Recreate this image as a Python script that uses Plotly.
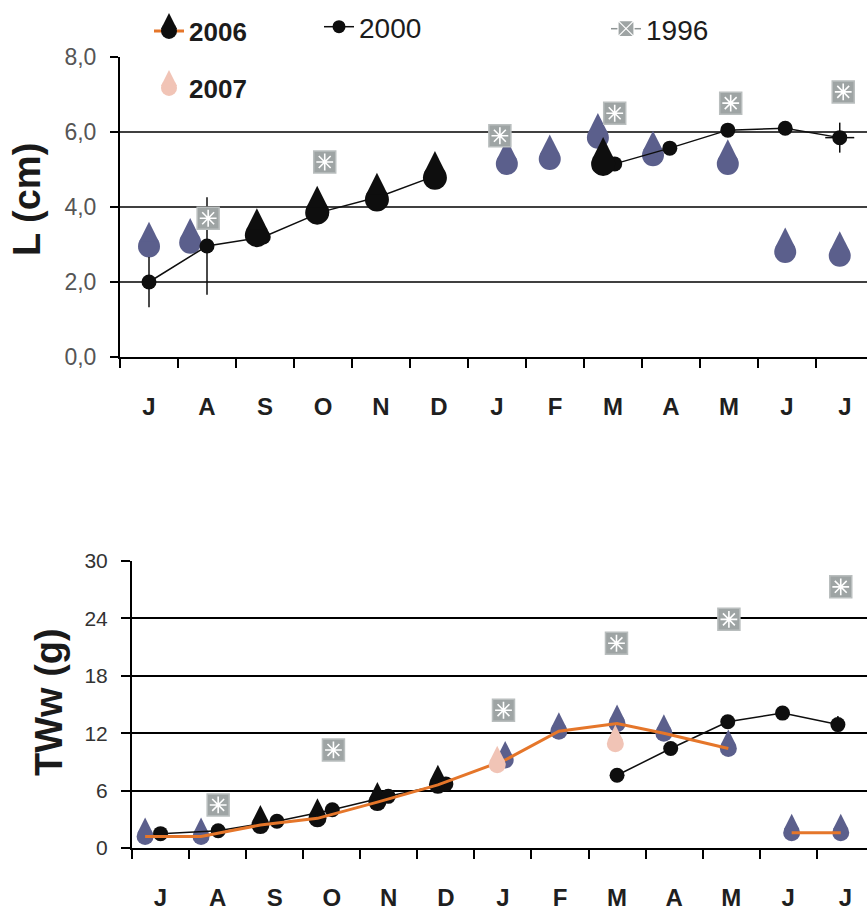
import plotly.graph_objects as go

# ---------------- data ----------------
months = ["J", "A", "S", "O", "N", "D", "J", "F", "M", "A", "M", "J", "J"]
month_pos = list(range(len(months)))          # month index, July .. July

L_ticks = [0, 2, 4, 6, 8]
L_ticktext = ["0,0", "2,0", "4,0", "6,0", "8,0"]
L_grid = [2, 4, 6]
W_ticks = [0, 6, 12, 18, 24, 30]

# ---- L (cm) panel ----
L_2006_dark_x = [1.86, 2.90, 3.93, 4.93, 7.83]
L_2006_dark_y = [3.25, 3.85, 4.20, 4.78, 5.15]
L_2006_light_x = [0.00, 0.71, 6.17, 6.91, 7.74, 8.69, 9.98, 10.97, 11.91]
L_2006_light_y = [2.95, 3.05, 5.15, 5.28, 5.85, 5.38, 5.15, 2.80, 2.70]
L_2000_x = [0.00, 1.00, 1.97, 2.98, 3.98, 4.97, 6.50, 8.03, 8.98, 9.98, 10.97, 11.91]
L_2000_y = [2.00, 2.96, 3.20, 3.87, 4.28, 4.85, None, 5.15, 5.57, 6.05, 6.10, 5.85]
L_2000_sd = [0.67, 1.30, 0, 0, 0.20, 0, 0, 0, 0, 0, 0, 0.40]
L_2000_sdx = [0, 0, 0, 0, 0, 0, 0, 0, 0, 0, 0, 0.25]
L_1996_x = [1.02, 3.03, 6.05, 8.03, 10.03, 11.97]
L_1996_y = [3.70, 5.20, 5.90, 6.50, 6.77, 7.07]

# ---- TWw (g) panel ----
W_2006_x = [-0.27, 0.71, 1.75, 2.75, 3.80, 4.86, 6.04, 6.98, 8.00, 8.82, 9.95, 10.50, 11.06, 11.92]
W_2006_y = [1.2, 1.2, 2.4, 3.1, 4.8, 6.6, 9.2, 12.2, 13.0, 12.0, 10.4, None, 1.6, 1.6]
W_2006_dark = [False, False, True, True, True, True, False, False, False, False, False, False, False, False]
W_2007_x = [5.90, 7.97]
W_2007_y = [8.7, 10.9]
W_2000_x = [0.00, 1.01, 2.04, 3.01, 3.99, 5.00, 6.50, 8.00, 8.94, 9.94, 10.90, 11.87]
W_2000_y = [1.5, 1.8, 2.8, 4.0, 5.4, 6.7, None, 7.6, 10.4, 13.2, 14.1, 12.9]
W_2000_sd = [0, 0, 0, 0, 0, 0, 0, 0, 0, 0, 0, 0.9]
W_1996_x = [1.01, 3.03, 6.01, 7.99, 9.96, 11.92]
W_1996_y = [4.5, 10.25, 14.4, 21.4, 23.9, 27.3]

# ---------------- styles ----------------
DARK = "#0e0e0e"
SLATE = "#5b5f8c"
PINK = "#f1c4b6"
ORANGE = "#e5762a"
SQ_FILL = "#9ea4a4"
SQ_EDGE = "#b9bebe"
GRAY_LINE = "#8e9494"
FONT = "Liberation Sans, Arial, sans-serif"

fig = go.Figure()


def add_drops(x, y, color, R, xa, ya):
    """Tear-drop marker = circle + narrow tip sitting above it."""
    common = dict(x=x, y=y, mode="markers", xaxis=xa, yaxis=ya,
                  showlegend=False, hoverinfo="skip")
    fig.add_trace(go.Scatter(**common, marker=dict(
        symbol="circle", size=2 * R, color=color, line=dict(width=0))))
    fig.add_trace(go.Scatter(**common, marker=dict(
        symbol="arrow-down", angle=180, standoff=2.236 * R, size=1.789 * R,
        color=color, line=dict(width=0))))


def add_squares(x, y, xa, ya):
    common = dict(x=x, y=y, mode="markers", xaxis=xa, yaxis=ya,
                  showlegend=False, hoverinfo="skip")
    fig.add_trace(go.Scatter(**common, marker=dict(
        symbol="square", size=22, color=SQ_FILL, line=dict(width=1.5, color=SQ_EDGE))))
    fig.add_trace(go.Scatter(**common, marker=dict(
        symbol="asterisk-open", size=14, color="white", line=dict(width=1.6, color="white"))))


# ---------- top panel: L (cm) ----------
add_drops(L_2006_light_x, L_2006_light_y, SLATE, 11, "x", "y")
fig.add_trace(go.Scatter(
    x=L_2000_x, y=L_2000_y, mode="lines+markers", xaxis="x", yaxis="y",
    line=dict(color=DARK, width=1.5), connectgaps=False,
    marker=dict(symbol="circle", size=15, color=DARK),
    error_y=dict(type="data", array=L_2000_sd, color=DARK, thickness=1.5, width=0),
    error_x=dict(type="data", array=L_2000_sdx, color=DARK, thickness=1.5, width=0),
    showlegend=False, hoverinfo="skip"))
add_squares(L_1996_x, L_1996_y, "x", "y")
add_drops(L_2006_dark_x, L_2006_dark_y, DARK, 12, "x", "y")

# ---------- bottom panel: TWw (g) ----------
W_light_x = [xv for xv, yv, d in zip(W_2006_x, W_2006_y, W_2006_dark) if yv is not None and not d]
W_light_y = [yv for yv, d in zip(W_2006_y, W_2006_dark) if yv is not None and not d]
W_dark_x = [xv for xv, yv, d in zip(W_2006_x, W_2006_y, W_2006_dark) if yv is not None and d]
W_dark_y = [yv for yv, d in zip(W_2006_y, W_2006_dark) if yv is not None and d]

add_drops(W_light_x, W_light_y, SLATE, 8.5, "x2", "y2")
add_drops(W_dark_x, W_dark_y, DARK, 9, "x2", "y2")
fig.add_trace(go.Scatter(
    x=W_2000_x, y=W_2000_y, mode="lines+markers", xaxis="x2", yaxis="y2",
    line=dict(color=DARK, width=1.5), connectgaps=False,
    marker=dict(symbol="circle", size=15, color=DARK),
    error_y=dict(type="data", array=W_2000_sd, color=DARK, thickness=1.5, width=0),
    showlegend=False, hoverinfo="skip"))
add_squares(W_1996_x, W_1996_y, "x2", "y2")
fig.add_trace(go.Scatter(
    x=W_2006_x, y=W_2006_y, mode="lines", xaxis="x2", yaxis="y2",
    line=dict(color=ORANGE, width=3), connectgaps=False,
    showlegend=False, hoverinfo="skip"))
add_drops(W_2007_x, W_2007_y, PINK, 8.5, "x2", "y2")

# ---------- legend entries ----------
fig.add_trace(go.Scatter(x=[None], y=[None], name="2006", mode="lines+markers",
                         line=dict(color=ORANGE, width=3),
                         marker=dict(symbol="circle", size=16, color=DARK), legend="legend"))
fig.add_trace(go.Scatter(x=[None], y=[None], name="2000", mode="lines+markers",
                         line=dict(color=DARK, width=1.5),
                         marker=dict(symbol="circle", size=13, color=DARK), legend="legend2"))
fig.add_trace(go.Scatter(x=[None], y=[None], name="1996", mode="lines+markers",
                         line=dict(color=GRAY_LINE, width=1.5),
                         marker=dict(symbol="square-x", size=16, color=SQ_FILL,
                                     line=dict(color="white", width=1.2)), legend="legend3"))
fig.add_trace(go.Scatter(x=[None], y=[None], name="2007", mode="markers",
                         marker=dict(symbol="circle", size=16, color=PINK), legend="legend4"))
fig.add_trace(go.Scatter(x=[None], y=[None], name=" ", mode="markers",
                         marker=dict(symbol="arrow-up", size=16, color=DARK), legend="legend5"))
fig.add_trace(go.Scatter(x=[None], y=[None], name=" ", mode="markers",
                         marker=dict(symbol="arrow-up", size=16, color=PINK), legend="legend6"))

W, H = 867, 911


def px_x(p):
    return p / W


def px_y(p):
    return 1 - p / H


def leg(xp, yp, size, bold):
    return dict(x=px_x(xp), y=px_y(yp), xanchor="left", yanchor="middle",
                bgcolor="rgba(0,0,0,0)", borderwidth=0, itemsizing="trace",
                font=dict(family=FONT, size=size, color="#1c1c1c",
                          weight="bold" if bold else "normal"))


xaxis_common = dict(
    range=[-0.5, 12.38], tickmode="array", tickvals=month_pos, ticktext=months,
    ticks="", showline=True, linecolor="black", linewidth=2, showgrid=False,
    zeroline=False, ticklabelstandoff=27,
    tickfont=dict(family=FONT, size=24, color="#1f1f1f", weight="bold"),
    minor=dict(tick0=-0.5, dtick=1, ticks="outside", ticklen=9, tickwidth=1.5,
               tickcolor="black", showgrid=False),
)

fig.update_layout(
    width=W, height=H,
    margin=dict(l=0, r=0, t=0, b=0, autoexpand=False),
    paper_bgcolor="white", plot_bgcolor="white",
    hovermode=False,
    xaxis=dict(domain=[120 / W, 1], anchor="y", **xaxis_common),
    yaxis=dict(domain=[px_y(357), px_y(57)], anchor="x", range=[0, 8],
               tickmode="array", tickvals=L_ticks, ticktext=L_ticktext,
               ticks="outside", ticklen=8, tickwidth=1.5, tickcolor="black",
               showline=True, linecolor="black", linewidth=2, showgrid=False,
               zeroline=False, ticklabelstandoff=9,
               tickfont=dict(family=FONT, size=23, color="#555555")),
    xaxis2=dict(domain=[132 / W, 1], anchor="y2", **xaxis_common),
    yaxis2=dict(domain=[px_y(848), px_y(561)], anchor="x2", range=[0, 30],
                tickmode="array", tickvals=W_ticks,
                ticks="outside", ticklen=9, tickwidth=1.5, tickcolor="black",
                showline=True, linecolor="black", linewidth=2,
                showgrid=True, gridcolor="black", gridwidth=1.5,
                zeroline=False, ticklabelstandoff=9,
                tickfont=dict(family=FONT, size=21, color="#333333")),
    legend=leg(149, 31, 26, True),
    legend2=leg(319, 27, 28, False),
    legend3=leg(606, 29, 28, False),
    legend4=leg(149, 88, 26, True),
    legend5=leg(149, 13, 26, True),
    legend6=leg(149, 70, 26, True),
    annotations=[
        dict(text="L (cm)", x=px_x(27), y=px_y(200), xref="paper", yref="paper",
             showarrow=False, textangle=-90, xanchor="center", yanchor="middle",
             font=dict(family=FONT, size=38, color="#1a1a1a", weight="bold")),
        dict(text="TWw (g)", x=px_x(49), y=px_y(702), xref="paper", yref="paper",
             showarrow=False, textangle=-90, xanchor="center", yanchor="middle",
             font=dict(family=FONT, size=38, color="#1a1a1a", weight="bold")),
    ],
    shapes=[dict(type="line", xref="x domain", x0=0, x1=1, yref="y", y0=g, y1=g,
                 line=dict(color="black", width=1.5), layer="below") for g in L_grid],
)

fig.write_html("out.html", config={"displayModeBar": False},
               post_script="document.body.style.margin='0';document.body.style.padding='0';")
